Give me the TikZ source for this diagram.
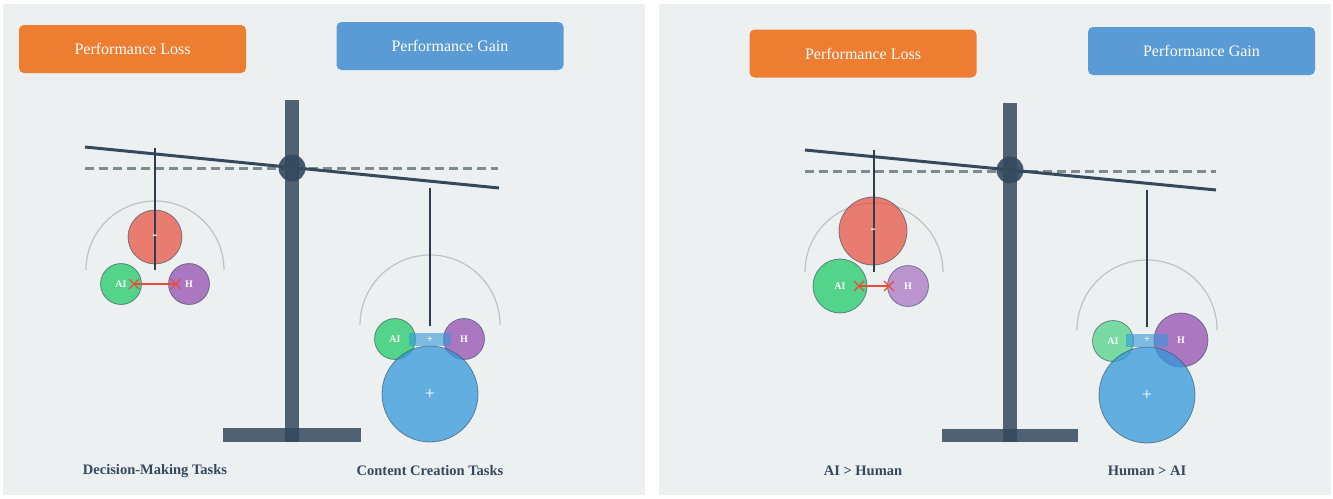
\documentclass[tikz,border=0pt]{standalone}
\usepackage{fontspec}
\setmainfont{Liberation Serif}
\usepackage{xcolor}
\usetikzlibrary{arrows}
\usetikzlibrary{shapes}
\usetikzlibrary{calc}

\definecolor{panelbg}{HTML}{ECF0F1}
\definecolor{lossorange}{HTML}{ED7D31}
\definecolor{gainblue}{HTML}{5B9BD5}
\definecolor{slate}{HTML}{34495E}
\definecolor{darkslate}{HTML}{2C3E50}
\definecolor{dashgray}{HTML}{7F8C8D}
\definecolor{arcgray}{HTML}{BDC3C7}
\definecolor{aigreen}{HTML}{2ECC71}
\definecolor{hpurple}{HTML}{9B59B6}
\definecolor{negred}{HTML}{E74C3C}
\definecolor{posblue}{HTML}{3498DB}

\begin{document}
\begin{tikzpicture}[x=1pt,y=-1pt,semithick]
\tikzstyle{labelbox}=[rounded corners=5pt,minimum width=227pt,minimum height=48pt,
                      inner sep=0pt,text=white,font=\fontsize{16}{19}\selectfont]
\tikzstyle{tasklabel}=[text=slate,font=\bfseries\fontsize{14.5}{17}\selectfont]
\tikzstyle{ball}=[circle,inner sep=0pt,draw=slate,line width=0.8pt,draw opacity=0.6,
                  fill opacity=0.8,text opacity=1,text=white,
                  font=\bfseries\fontsize{10}{12}\selectfont]
\tikzstyle{negball}=[ball,fill=negred,fill opacity=0.7]
\tikzstyle{negsign}=[text=white!85!gray,inner sep=0pt,font=\bfseries\fontsize{16}{16}\selectfont]
\tikzstyle{bigball}=[ball,fill=posblue,fill opacity=0.75,minimum size=96pt,
                     font=\fontsize{18}{20}\selectfont]
\tikzstyle{bar}=[fill=posblue,fill opacity=0.6,text opacity=1,text=white,inner sep=0pt,
                 minimum width=42pt,minimum height=13pt,font=\bfseries\fontsize{10}{12}\selectfont]
\tikzstyle{beam}=[slate,line width=3pt]
\tikzstyle{levelline}=[dashgray,line width=3pt,dash pattern=on 9pt off 5pt]
\tikzstyle{hanger}=[darkslate,line width=2.8pt]
\tikzstyle{guide}=[arcgray,line width=1.2pt]
\tikzstyle{conflict}=[negred,line width=1.8pt]
\tikzstyle{post}=[slate,opacity=0.85]

\useasboundingbox (0,0) rectangle (1333,498);

% panels
\fill[panelbg] (3,4) rectangle (645,495);
\fill[panelbg] (659,4) rectangle (1331,495);

% ---- left panel ----
\node[labelbox,fill=lossorange] (lossA) at (132.5,49) {Performance Loss};
\node[labelbox,fill=gainblue] (gainA) at (450,46) {Performance Gain};

\fill[post] (285,100) rectangle (299,442);
\fill[post] (223,428) rectangle (361,442);

\coordinate (levelA1) at (85,168);
\coordinate (levelA2) at (498,168);
\draw[levelline] (levelA1) -- (levelA2);
\coordinate (beamA1) at (85,147);
\coordinate (beamA2) at (499,188);
\draw[beam] (beamA1) -- (beamA2);
\node[circle,fill=slate,fill opacity=0.9,minimum size=27pt,inner sep=0pt] (pivotA) at (292,168) {};

% decision-making side
\draw[guide] (86,270) arc[start angle=180,end angle=360,radius=69];
\node[negball,minimum size=54pt] (negA) at (155,237) {};
\node[ball,fill=aigreen,minimum size=41pt] (aiA) at (121,284) {AI};
\node[ball,fill=hpurple,minimum size=41pt] (hA) at (189,284) {H};
\coordinate (hangA1top) at (155,148);
\coordinate (hangA1bot) at (155,270);
\draw[hanger] (hangA1top) -- (hangA1bot);
\node[negsign] (negAsign) at (negA.center) {-};
\coordinate (xA1) at ($(aiA.center)+(13,0)$);
\coordinate (xA2) at ($(hA.center)+(-13,0)$);
\draw[conflict] (xA1) -- (xA2);
\draw[conflict,line width=1.3pt] (xA1) +(-5,-5) -- +(5,5) +(-5,5) -- +(5,-5);
\draw[conflict,line width=1.3pt] (xA2) +(-5,-5) -- +(5,5) +(-5,5) -- +(5,-5);

% content creation side
\draw[guide] (360,325) arc[start angle=180,end angle=360,radius=70];
\coordinate (hangA2top) at (430,188);
\coordinate (hangA2bot) at (430,326);
\draw[hanger] (hangA2top) -- (hangA2bot);
\node[ball,fill=aigreen,minimum size=41pt] (aiB) at (395,339) {AI};
\node[ball,fill=hpurple,minimum size=41pt] (hB) at (464,339) {H};
\node[bigball] (posA) at (430,394) {+};
\node[bar] (barA) at (430,339.5) {+};

\node[tasklabel] (taskA1) at (155,471) {Decision-Making Tasks};
\node[tasklabel] (taskA2) at (430,471) {Content Creation Tasks};

% ---- right panel ----
\node[labelbox,fill=lossorange] (lossB) at (863,53.5) {Performance Loss};
\node[labelbox,fill=gainblue] (gainB) at (1201.5,51) {Performance Gain};

\fill[post] (1003,103) rectangle (1017,442);
\fill[post] (942,429) rectangle (1078,442);

\coordinate (levelB1) at (805,171);
\coordinate (levelB2) at (1216,171);
\draw[levelline] (levelB1) -- (levelB2);
\coordinate (beamB1) at (805,150);
\coordinate (beamB2) at (1216,190);
\draw[beam] (beamB1) -- (beamB2);
\node[circle,fill=slate,fill opacity=0.9,minimum size=27pt,inner sep=0pt] (pivotB) at (1010,170) {};

% AI > Human side
\draw[guide] (805,272) arc[start angle=180,end angle=360,radius=69];
\node[negball,minimum size=68pt] (negB) at (873,231) {};
\node[ball,fill=aigreen,minimum size=54pt] (aiC) at (840,286) {AI};
\node[ball,fill=hpurple,fill opacity=0.6,minimum size=41pt] (hC) at (908,286) {H};
\coordinate (hangB1top) at (874,150);
\coordinate (hangB1bot) at (874,272);
\draw[hanger] (hangB1top) -- (hangB1bot);
\node[negsign] (negBsign) at (negB.center) {-};
\coordinate (xB1) at ($(aiC.center)+(19,0)$);
\coordinate (xB2) at ($(hC.center)+(-19,0)$);
\draw[conflict] (xB1) -- (xB2);
\draw[conflict,line width=1.3pt] (xB1) +(-5,-5) -- +(5,5) +(-5,5) -- +(5,-5);
\draw[conflict,line width=1.3pt] (xB2) +(-5,-5) -- +(5,5) +(-5,5) -- +(5,-5);

% Human > AI side
\draw[guide] (1077,330) arc[start angle=180,end angle=360,radius=70];
\coordinate (hangB2top) at (1147,190);
\coordinate (hangB2bot) at (1147,327);
\draw[hanger] (hangB2top) -- (hangB2bot);
\node[ball,fill=aigreen,fill opacity=0.6,minimum size=41pt] (aiD) at (1113,341) {AI};
\node[ball,fill=hpurple,minimum size=54pt] (hD) at (1181,340) {H};
\node[bigball] (posB) at (1147,395) {+};
\node[bar] (barB) at (1147,340) {+};

\node[tasklabel] (taskB1) at (863,471) {AI > Human};
\node[tasklabel] (taskB2) at (1147,471) {Human > AI};
\end{tikzpicture}
\end{document}
